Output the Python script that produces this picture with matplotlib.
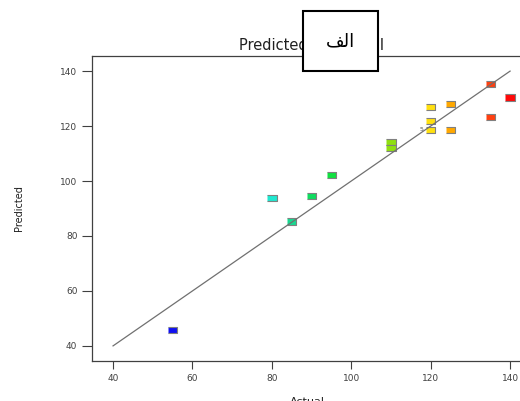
import matplotlib
matplotlib.use('Agg')
import matplotlib.pyplot as plt
from matplotlib.patches import Rectangle

actual = [55, 80, 85, 90, 95, 110, 110, 120, 120, 120, 125, 125, 135, 135, 140]
predicted = [45.8, 93.8, 85.3, 94.5, 102.2, 114.2, 112.0, 127.0, 121.8, 118.5,
             128.0, 118.5, 135.3, 123.3, 130.5]
colors = ['#1010f0', '#20e8d0', '#18d890', '#10dc60', '#10e040', '#90e010', '#90e010',
          '#ffe010', '#ffe010', '#ffe010', '#ffa800', '#ffa800', '#ff4010', '#ff4010', '#ff0808']
xticks = [40, 60, 80, 100, 120, 140]
yticks = [40, 60, 80, 100, 120, 140]

fig = plt.figure(figsize=(5.2, 4.01), dpi=100)
ax = fig.add_axes([92/520, 40/401, 430/520, 305/401])

rect = [(-1, -0.7), (1, -0.7), (1, 0.7), (-1, 0.7)]
ax.scatter(actual, predicted, c=colors, marker=rect, s=46,
           edgecolors='#808080', linewidths=0.8, zorder=2)
ax.plot([40, 140], [40, 140], color='#707070', lw=0.9, zorder=3)
ax.text(118.3, 118.8, '5', fontsize=4.5, color='#555555', ha='right', va='center')

ax.set_xlim(34.7, 143)
ax.set_ylim(34.5, 145.5)
ax.set_xticks(xticks)
ax.set_yticks(yticks)
ax.tick_params(labelsize=6.5, colors='#404040', length=7, width=0.8)
ax.tick_params(axis='x', length=6)
ax.spines['right'].set_visible(False)
for s in ['left', 'bottom', 'top']:
    ax.spines[s].set_color('#404040')
    ax.spines[s].set_linewidth(0.9)

ax.set_xlabel('Actual', fontsize=8, color='#202020', labelpad=10)
ax.set_ylabel('Predicted', fontsize=7, color='#202020', labelpad=26)
ax.set_title('Predicted vs. Actual', fontsize=10.5, color='#202020', pad=4, x=0.51)

# label box over the title; Arabic glyphs in visual (shaped) order, matplotlib does no shaping
fig.patches.append(Rectangle((303/520, 1 - 71/401), 75/520, 60/401, transform=fig.transFigure,
                             fc='white', ec='black', lw=1.5, zorder=5))
fig.text(340/520, 1 - 41/401, '\ufed2\ufedf\ufe8d', fontsize=13, ha='center', va='center',
         family='DejaVu Sans', zorder=6)

fig.savefig('out.png', dpi=100)
